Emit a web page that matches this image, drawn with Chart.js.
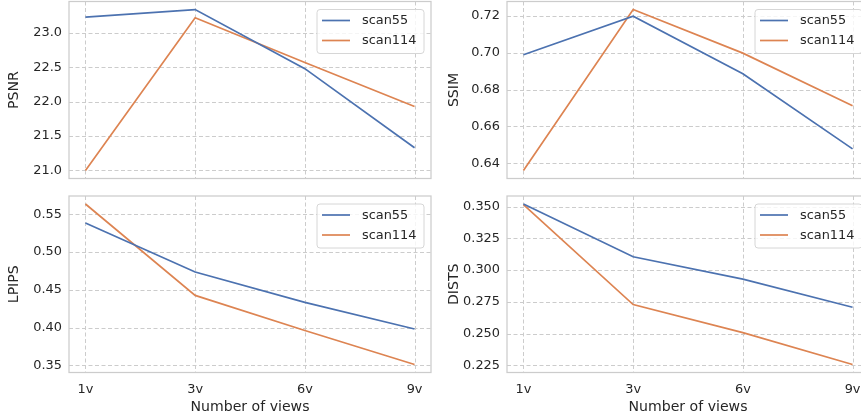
<!DOCTYPE html>
<html>
<head>
<meta charset="utf-8">
<script src="https://cdn.jsdelivr.net/npm/chart.js@4"></script>
<style>
  html, body { margin: 0; padding: 0; background: #fff; overflow: hidden; }
  #wrap { position: relative; width: 861px; height: 419px; overflow: hidden; }
  canvas { position: absolute; left: 0; top: 0; }
</style>
</head>
<body>
<div id="wrap">
  <canvas id="psnr" width="880" height="419"></canvas>
  <canvas id="ssim" width="880" height="419"></canvas>
  <canvas id="lpips" width="880" height="419"></canvas>
  <canvas id="dists" width="880" height="419"></canvas>
</div>
<script>
// views on the x axis
const views = ['1v', '3v', '6v', '9v'];
const seriesNames = ['scan55', 'scan114'];

// values
const psnr55 = [23.23, 23.34, 22.48, 21.33];
const psnr114 = [21.00, 23.22, 22.57, 21.93];
const ssim55 = [0.6988, 0.7197, 0.6885, 0.6479];
const ssim114 = [0.6362, 0.7233, 0.6997, 0.6712];
const lpips55 = [0.5385, 0.4735, 0.4333, 0.3980];
const lpips114 = [0.5637, 0.4426, 0.3960, 0.3510];
const dists55 = [0.3520, 0.3105, 0.2929, 0.2708];
const dists114 = [0.3515, 0.2729, 0.2508, 0.2258];

// y tick labels per panel
const psnrTicks = [21.0, 21.5, 22.0, 22.5, 23.0];
const ssimTicks = [0.64, 0.66, 0.68, 0.70, 0.72];
const lpipsTicks = [0.35, 0.40, 0.45, 0.50, 0.55];
const distsTicks = [0.225, 0.250, 0.275, 0.300, 0.325, 0.350];

const colors = ['#4c72b0', '#dd8452'];
const textColor = '#262626';
const gridColor = '#cccccc';
// fractional sizes keep the glyph advances unhinted
const tickSize = 12.9;
const labelSize = 14.1;
const family = "'DejaVu Sans', sans-serif";

Chart.defaults.font.family = family;
Chart.defaults.font.size = tickSize;
Chart.defaults.color = textColor;

// dashed grid drawn at the scale ticks
const gridPlugin = {
  id: 'dashGrid',
  beforeDatasetsDraw(chart) {
    const a = chart.chartArea;
    const ctx = chart.ctx;
    ctx.save();
    ctx.strokeStyle = gridColor;
    ctx.lineWidth = 1;
    ctx.setLineDash([4, 2.5]);
    chart.scales.x.ticks.forEach(t => {
      const px = Math.round(chart.scales.x.getPixelForValue(t.value)) + 0.5;
      ctx.beginPath();
      ctx.moveTo(px, a.top);
      ctx.lineTo(px, a.bottom);
      ctx.stroke();
    });
    chart.scales.y.ticks.forEach(t => {
      const py = Math.round(chart.scales.y.getPixelForValue(t.value)) + 0.5;
      ctx.beginPath();
      ctx.moveTo(a.left, py);
      ctx.lineTo(a.right, py);
      ctx.stroke();
    });
    ctx.restore();
  }
};

// box around the plot area, like matplotlib spines
const boxPlugin = {
  id: 'box',
  afterDatasetsDraw(chart) {
    const a = chart.chartArea;
    const ctx = chart.ctx;
    ctx.save();
    ctx.strokeStyle = '#cccccc';
    ctx.lineWidth = 1.25;
    ctx.strokeRect(a.left, a.top, a.right - a.left, a.bottom - a.top);
    ctx.restore();
  }
};

// legend box in the upper right corner
const legendPlugin = {
  id: 'innerLegend',
  afterDraw(chart) {
    const a = chart.chartArea;
    const ctx = chart.ctx;
    const w = 107, h = 44;
    const x = a.right - 7 - w;
    const y = a.top + 8;
    ctx.save();
    ctx.beginPath();
    ctx.roundRect(x, y, w, h, 3);
    ctx.fillStyle = 'rgba(255,255,255,0.8)';
    ctx.fill();
    ctx.strokeStyle = '#d6d6d6';
    ctx.lineWidth = 1;
    ctx.stroke();
    ctx.font = tickSize + 'px ' + family;
    ctx.textBaseline = 'middle';
    chart.data.datasets.forEach((ds, i) => {
      const cy = y + 11 + i * 20;
      ctx.strokeStyle = ds.borderColor;
      ctx.lineWidth = ds.borderWidth;
      ctx.beginPath();
      ctx.moveTo(x + 5, cy);
      ctx.lineTo(x + 33, cy);
      ctx.stroke();
      ctx.fillStyle = textColor;
      ctx.fillText(ds.label, x + 45, cy + 0.5);
    });
    ctx.restore();
  }
};

function makePanel(id, title, a, b, ticks, decimals, box, yW, xH, showX) {
  const lo = Math.min(...a, ...b), hi = Math.max(...a, ...b);
  const pad = (hi - lo) * 0.05;

  const datasets = [a, b].map((vals, k) => ({
    label: seriesNames[k],
    data: vals.map((v, i) => ({ x: i, y: v })),
    borderColor: colors[k],
    backgroundColor: colors[k],
    borderWidth: 1.7,
    pointRadius: 0,
    tension: 0
  }));

  new Chart(document.getElementById(id), {
    type: 'line',
    data: { datasets },
    options: {
      responsive: false,
      animation: false,
      devicePixelRatio: 1,
      layout: {
        padding: {
          left: box.l - yW,
          top: box.t,
          right: 880 - box.r,
          bottom: 419 - box.b - xH
        }
      },
      plugins: { legend: { display: false }, tooltip: { enabled: false } },
      scales: {
        x: {
          type: 'linear',
          min: -0.15,
          max: views.length - 1 + 0.15,
          afterBuildTicks: s => { s.ticks = views.map((_, i) => ({ value: i })); },
          afterFit: s => {
            s.height = xH;
            s.paddingLeft = 0; s.paddingRight = 0; s.paddingTop = 0; s.paddingBottom = 0;
          },
          ticks: {
            display: showX,
            autoSkip: false,
            maxRotation: 0,
            padding: 9,
            callback: v => views[v]
          },
          grid: { display: false, drawTicks: false },
          border: { display: false },
          title: {
            display: showX,
            text: 'Number of views',
            padding: { top: 0, bottom: 2 },
            font: { size: labelSize }
          }
        },
        y: {
          min: lo - pad,
          max: hi + pad,
          afterBuildTicks: s => { s.ticks = ticks.map(v => ({ value: v })); },
          afterFit: s => {
            s.width = yW;
            s.paddingLeft = 0; s.paddingRight = 0; s.paddingTop = 0; s.paddingBottom = 0;
          },
          ticks: {
            autoSkip: false,
            padding: 7,
            callback: v => v.toFixed(decimals)
          },
          grid: { display: false, drawTicks: false },
          border: { display: false },
          title: {
            display: true,
            text: title,
            padding: { top: 3, bottom: 0 },
            font: { size: labelSize }
          }
        }
      }
    },
    plugins: [gridPlugin, boxPlugin, legendPlugin]
  });
}

const topRow = { t: 1.5, b: 178.5 };
const botRow = { t: 196, b: 372.5 };

makePanel('psnr', 'PSNR', psnr55, psnr114, psnrTicks, 1,
  { l: 69, r: 431, t: topRow.t, b: topRow.b }, 66, 0, false);
makePanel('ssim', 'SSIM', ssim55, ssim114, ssimTicks, 2,
  { l: 507, r: 869, t: topRow.t, b: topRow.b }, 64, 0, false);
makePanel('lpips', 'LPIPS', lpips55, lpips114, lpipsTicks, 2,
  { l: 69, r: 431, t: botRow.t, b: botRow.b }, 66, 45.5, true);
makePanel('dists', 'DISTS', dists55, dists114, distsTicks, 3,
  { l: 507, r: 869, t: botRow.t, b: botRow.b }, 64, 45.5, true);
</script>
</body>
</html>
